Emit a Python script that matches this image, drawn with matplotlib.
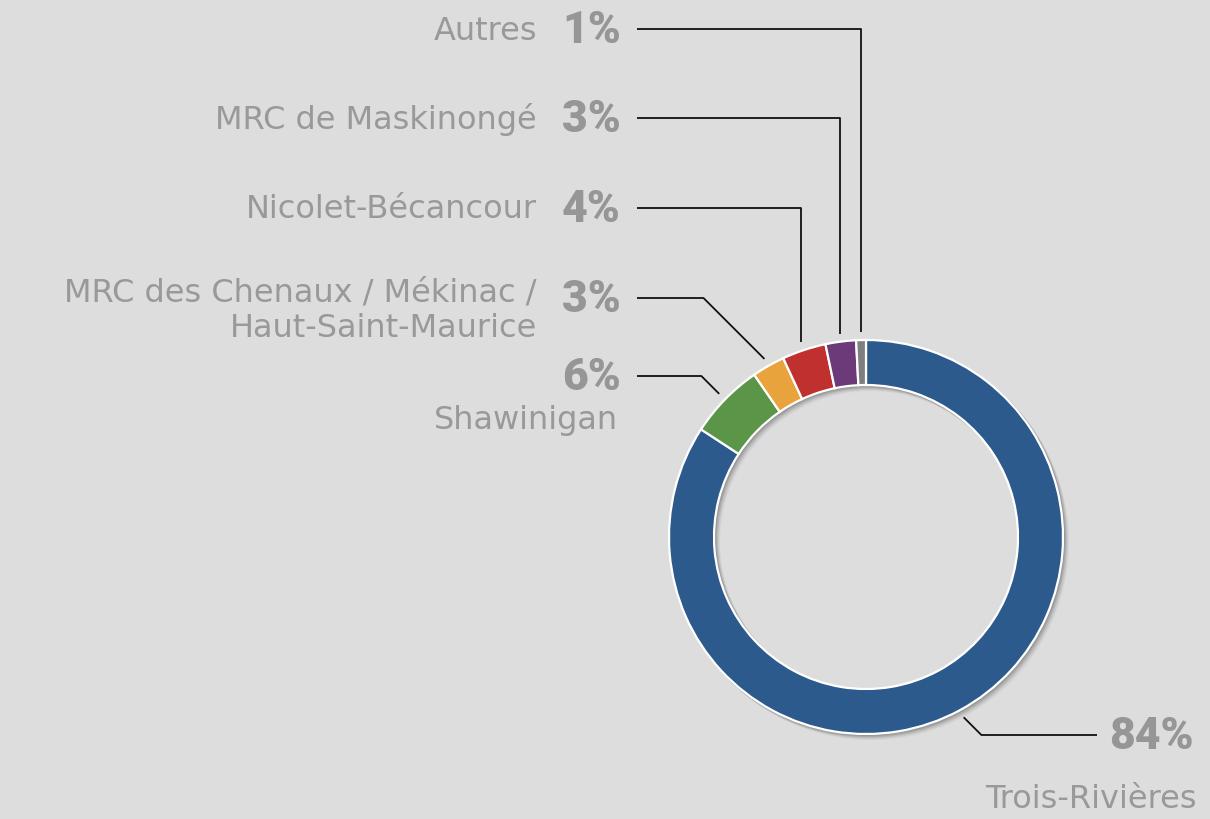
import numpy as np
import matplotlib
matplotlib.use("Agg")
import matplotlib.pyplot as plt

# ---- data ----
categories = ["Trois-Rivières", "Shawinigan", "MRC des Chenaux / Mékinac /\nHaut-Saint-Maurice",
              "Nicolet-Bécancour", "MRC de Maskinongé", "Autres"]
values = [84.2, 6.2, 2.7, 3.6, 2.5, 0.8]
pct_labels = ["84%", "6%", "3%", "4%", "3%", "1%"]
colors = ["#2d5a8c", "#5b9547", "#e8a33d", "#c0302e", "#6c3a78", "#7f7f7f"]

W, H = 1210, 819
BG = "#dddddd"
TXT = "#999999"

fig = plt.figure(figsize=(W / 100, H / 100), dpi=100, facecolor=BG)
ax = fig.add_axes([0, 0, 1, 1])
ax.set_facecolor(BG)

def Y(y):
    return H - y

cx, cy = 866, Y(537)
R = 197
ring = 45

# soft shadow
for dx, dy, a in [(5, -5, 0.04), (4, -4, 0.05), (3, -3, 0.07), (2, -2, 0.09), (1, -1, 0.1)]:
    ax.pie([1], radius=R + 1, center=(cx + dx, cy + dy), colors=["#000000"],
           wedgeprops=dict(width=ring + 2, alpha=a, linewidth=0), frame=True)

wedges, _ = ax.pie(values, radius=R, center=(cx, cy), colors=colors, startangle=90,
                   counterclock=False,
                   wedgeprops=dict(width=ring, edgecolor="white", linewidth=1.6), frame=True)
ax.set_xlim(0, W)
ax.set_ylim(0, H)
ax.set_aspect("equal")
ax.axis("off")

# ---- labels / leader lines ----
pct_font = dict(family=["Roboto", "DejaVu Sans"], fontweight="heavy",
                fontsize=32, color="#969696")
lab_font = dict(family="DejaVu Sans", fontsize=23, color=TXT)

label_y = [735, 376, 298, 208, 118, 29]
style = ["diag", "diag", "diag", "vert", "vert", "vert"]
line_end_x = [1097, 637, 637, 637, 637, 637]

for i, w in enumerate(wedges):
    mid = np.deg2rad((w.theta1 + w.theta2) / 2)
    r0 = R + 8
    sx, sy = cx + r0 * np.cos(mid), cy + r0 * np.sin(mid)
    ly = Y(label_y[i])
    if style[i] == "diag":
        d = abs(sy - ly)
        ex = sx + d if np.cos(mid) > 0 else sx - d
        xs = [sx, ex, line_end_x[i]]
    else:
        xs = [sx, sx, line_end_x[i]]
    ys = [sy, ly, ly]
    ax.plot(xs, ys, color="#111111", lw=1.3, solid_capstyle="butt", zorder=5)

# percentages
ax.text(1194, Y(737), pct_labels[0], ha="right", va="center", **pct_font)
for i in range(1, 6):
    ax.text(621, Y(label_y[i] + 2), pct_labels[i], ha="right", va="center", **pct_font)

# category names
ax.text(1197, Y(799), categories[0], ha="right", va="center", **lab_font)
ax.text(618, Y(421), categories[1], ha="right", va="center", **lab_font)
ax.text(537, Y(311), categories[2], ha="right", va="center", linespacing=1.2, **lab_font)
ax.text(537, Y(209), categories[3], ha="right", va="center", **lab_font)
ax.text(537, Y(119), categories[4], ha="right", va="center", **lab_font)
ax.text(537, Y(32), categories[5], ha="right", va="center", **lab_font)

fig.savefig("out.png", dpi=100, facecolor=BG)
